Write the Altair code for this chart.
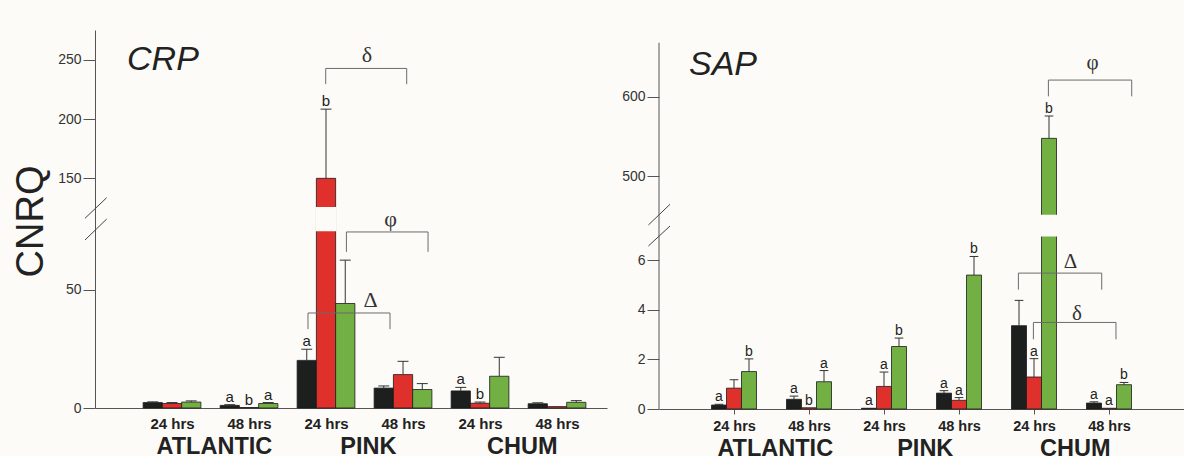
import altair as alt
import pandas as pd
import numpy as np

SANS = "Liberation Sans"
SERIF = "Liberation Serif"
BG = "#fcfbf7"
INK = "#222222"
AXIS = "#555555"

# ---------------- data ----------------
species = ["ATLANTIC", "PINK", "CHUM"]
times = ["24 hrs", "48 hrs"]
series = ["Series 1", "Series 2", "Series 3"]
series_colors = ["#1d1f1e", "#e0302c", "#72b043"]

# order: ATL 24, ATL 48, PINK 24, PINK 48, CHUM 24, CHUM 48 ; each black, red, green
crp_values = [2.3, 1.9, 2.5, 1.1, 0.2, 1.9, 20.1, 150.0, 44.1, 8.4, 14.1, 7.8, 7.2, 2.0, 13.4, 1.8, 0.6, 2.4]
crp_err = [2.6, 2.3, 3.0, 1.4, None, 2.3, 24.8, 208.3, 62.4, 9.3, 19.7, 10.3, 8.7, 2.5, 21.4, 2.2, None, 3.1]
crp_letters = ["", "", "", "a", "b", "a", "a", "b", "", "", "", "", "a", "b", "", "", "", ""]

sap_values = [0.16, 0.84, 1.51, 0.39, 0.05, 1.10, 0.03, 0.91, 2.52, 0.64, 0.35, 5.40, 3.36, 1.29, 547.5, 0.24, 0.03, 0.98]
sap_err = [0.19, 1.18, 2.02, 0.52, None, 1.55, None, 1.49, 2.86, 0.74, 0.46, 6.15, 4.38, 2.03, 575.7, 0.29, None, 1.07]
sap_letters = ["a", "", "b", "a", "b", "a", "a", "a", "b", "a", "a", "b", "", "a", "b", "a", "a", "b"]

# significance brackets
crp_br_symbol = ["δ", "φ", "Δ"]
crp_br_start = [1.996, 2.265, 1.766]
crp_br_end = [3.048, 3.325, 2.831]
crp_br_line = [242.6, 74.3, 40.1]
crp_br_leg = [229.4, 65.9, 33.3]
crp_br_text_x = [2.53, 2.84, 2.58]
crp_br_text_y = [247.9, 85.1, 42.6]

sap_br_symbol = ["φ", "Δ", "δ"]
sap_br_start = [4.192, 3.792, 3.992]
sap_br_end = [5.303, 4.903, 5.093]
sap_br_line = [621.0, 5.48, 3.49]
sap_br_leg = [600.5, 4.81, 2.81]
sap_br_text_x = [4.78, 4.485, 4.573]
sap_br_text_y = [635.2, 5.69, 3.6]

crp_cfg = dict(
    gene="CRP", gene_x=-0.584, gene_y=241.2,
    W=512, H=378, xdom=[-1.0, 5.649], bw=0.25, cap=0.071,
    ydom=[0, 75, 125, 275], yrange=[378, 200.3, 178, 0], yticks=[0, 50, 150, 200, 250],
    gap=(75, 125), letter_size=15, sym_size=22,
    slashes=[(-10, 188.3, 11.7, 167.7), (-10, 210, 11.7, 189)],
    x_ticks=False, x_tick_size=0, x_label_pad=20, x_label_size=15,
    group_y=46, title=True, domain_top=None,
)
sap_cfg = dict(
    gene="SAP", gene_x=-0.6, gene_y=627.4,
    W=525, H=379, xdom=[-1.0, 6.0], bw=0.2, cap=0.058,
    ydom=[0, 7, 450, 668], yrange=[379, 205.4, 185.7, 12.8], yticks=[0, 2, 4, 6, 500, 600],
    gap=(7, 450), letter_size=14, sym_size=21,
    slashes=[(-10.6, 195, 11, 174.3), (-10.6, 216, 11, 196)],
    x_ticks=True, x_tick_size=5, x_label_pad=16.4, x_label_size=14.5,
    group_y=47, title=False, domain_top=12.8,
)


def panel(values, errs, letters, br, cfg):
    rows = []
    for i, v in enumerate(values):
        g, s = divmod(i, 3)
        xc = g + (s - 1) * cfg["bw"]
        e = errs[i]
        rows.append(dict(
            series=series[s], xc=xc, x0=xc - cfg["bw"] / 2, x1=xc + cfg["bw"] / 2,
            val=v, err=np.nan if e is None else e, letter=letters[i],
            top=v if e is None else e, c0=xc - cfg["cap"], c1=xc + cfg["cap"],
            glo=cfg["gap"][0], ghi=cfg["gap"][1],
        ))
    df = pd.DataFrame(rows)

    sym, bs, be, bl, bg_, tx, ty = br
    seg = []
    for k in range(len(sym)):
        seg.append(dict(bx=bs[k], bx2=be[k], by=bl[k], by2=bl[k]))
        seg.append(dict(bx=bs[k], bx2=bs[k], by=bl[k], by2=bg_[k]))
        seg.append(dict(bx=be[k], bx2=be[k], by=bl[k], by2=bg_[k]))
    seg = pd.DataFrame(seg)
    sym_df = pd.DataFrame(dict(sym=sym, tx=tx, ty=ty))

    xsc = alt.Scale(domain=cfg["xdom"], nice=False, zero=False)
    ysc = alt.Scale(domain=cfg["ydom"], range=cfg["yrange"], nice=False, zero=False)

    label_expr = f"datum.value % 2 == 0 ? '{times[0]}' : '{times[1]}'"
    xax = alt.Axis(
        values=[0, 1, 2, 3, 4, 5], labelExpr=label_expr, title=None, grid=False,
        ticks=cfg["x_ticks"], tickSize=cfg["x_tick_size"], tickColor=AXIS,
        labelPadding=cfg["x_label_pad"], labelBaseline="alphabetic",
        labelFontSize=cfg["x_label_size"], labelFontWeight="bold", labelFont=SANS,
        labelColor=INK, domainColor=AXIS, labelFlush=False, labelOverlap=False,
    )
    yax_kw = dict(
        values=cfg["yticks"], grid=False, tickSize=12, tickColor=AXIS, labelPadding=2,
        labelFontSize=14, labelFont=SANS, labelColor="#333333", domainColor=AXIS,
        labelOverlap=False, labelFlush=False,
    )
    if cfg["title"]:
        yax = alt.Axis(title="CNRQ", titleFont=SANS, titleFontSize=38, titleFontWeight="normal",
                       titleColor=INK, titleX=-53, titleY=191, titleAngle=270,
                       titleBaseline="alphabetic", titleAlign="center", **yax_kw)
    else:
        yax = alt.Axis(title=None, domain=False, **yax_kw)

    def X(f):
        return alt.X(f"{f}:Q", scale=xsc, axis=xax)

    def Y(f):
        return alt.Y(f"{f}:Q", scale=ysc, axis=yax)

    base = alt.Chart(df)
    bars = base.mark_rect(stroke="#1b1b1b", strokeWidth=0.8).encode(
        x=X("x0"), x2="x1", y=Y("val"), y2=alt.datum(0),
        color=alt.Color("series:N", scale=alt.Scale(domain=series, range=series_colors), legend=None),
    )
    mask = base.transform_filter("datum.val > datum.glo").mark_rect(
        fill=BG, stroke=BG, strokeWidth=2
    ).encode(x=X("x0"), x2="x1", y=Y("glo"), y2="ghi")
    errs_l = base.transform_filter("isValid(datum.err)").mark_rule(color="#333333", strokeWidth=1).encode(
        x=X("xc"), y=Y("val"), y2="err")
    caps = base.transform_filter("isValid(datum.err)").mark_rule(color="#333333", strokeWidth=1).encode(
        x=X("c0"), x2="c1", y=Y("err"))
    lets = base.transform_filter("datum.letter != ''").mark_text(
        font=SANS, fontSize=cfg["letter_size"], dy=-3, baseline="alphabetic", color=INK
    ).encode(x=X("xc"), y=Y("top"), text="letter:N")

    brk = alt.Chart(seg).mark_rule(color="#6b6b6b", strokeWidth=1).encode(
        x=X("bx"), x2="bx2", y=Y("by"), y2="by2")
    syms = alt.Chart(sym_df).mark_text(
        font=SERIF, fontSize=cfg["sym_size"], baseline="alphabetic", align="center", color="#333333"
    ).encode(x=X("tx"), y=Y("ty"), text="sym:N")

    gene = alt.Chart(pd.DataFrame(dict(t=[cfg["gene"]], gx=[cfg["gene_x"]], gy=[cfg["gene_y"]]))).mark_text(
        font=SANS, fontSize=34, fontStyle="italic", align="left", baseline="alphabetic", color=INK
    ).encode(x=X("gx"), y=Y("gy"), text="t:N")

    grp = alt.Chart(pd.DataFrame(dict(name=species, gx=[0.55, 2.55, 4.55]))).mark_text(
        font=SANS, fontSize=23.5, fontWeight="bold", align="center", baseline="alphabetic", color=INK
    ).encode(x=X("gx"), y=alt.value(cfg["H"] + cfg["group_y"]), text="name:N")

    one = pd.DataFrame(dict(k=[0]))
    layers = [bars, mask, errs_l, caps, lets, brk, syms, gene, grp]
    for (xa, ya, xb, yb) in cfg["slashes"]:
        layers.append(alt.Chart(one).mark_rule(color="#444444", strokeWidth=1).encode(
            x=alt.value(xa), y=alt.value(ya), x2=alt.value(xb), y2=alt.value(yb)))
    if cfg["domain_top"] is not None:
        layers.append(alt.Chart(one).mark_rule(color=AXIS, strokeWidth=1).encode(
            x=alt.value(0), y=alt.value(cfg["domain_top"]), y2=alt.value(cfg["H"])))
    return alt.layer(*layers).properties(width=cfg["W"], height=cfg["H"])


left = panel(crp_values, crp_err, crp_letters,
             (crp_br_symbol, crp_br_start, crp_br_end, crp_br_line, crp_br_leg, crp_br_text_x, crp_br_text_y),
             crp_cfg)
right = panel(sap_values, sap_err, sap_letters,
              (sap_br_symbol, sap_br_start, sap_br_end, sap_br_line, sap_br_leg, sap_br_text_x, sap_br_text_y),
              sap_cfg)

chart = alt.hconcat(left, right, spacing=14).properties(
    background=BG,
    padding={"left": 12, "top": 30, "right": 0, "bottom": 0},
).configure_view(strokeWidth=0)

chart.save("out.html", embed_options={"renderer": "svg", "actions": False})
